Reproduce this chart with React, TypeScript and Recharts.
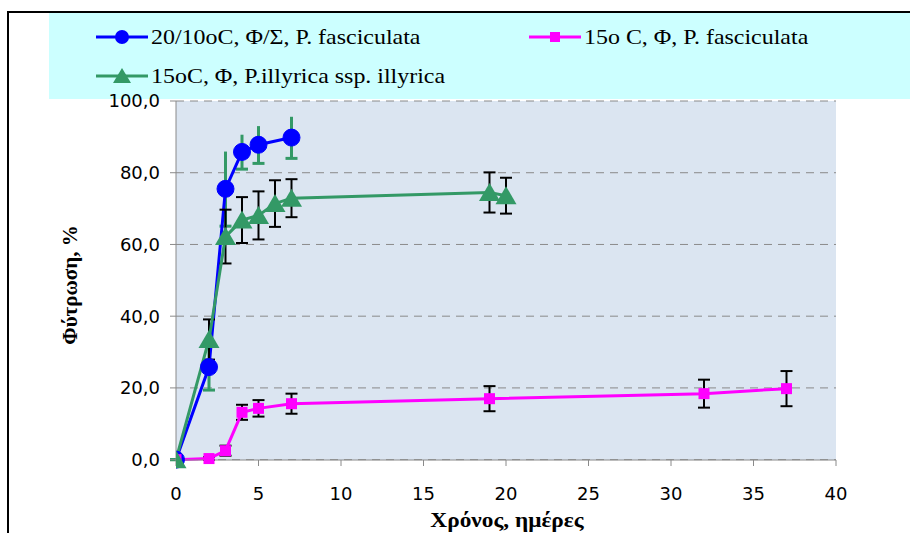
import React from 'react';
import { ComposedChart, Line, XAxis, YAxis, CartesianGrid, ErrorBar } from 'recharts';

// ---- data ----
const blueDays = [0, 2, 3, 4, 5, 7];
const blueValues = [0, 25.8, 75.5, 85.8, 87.8, 89.8];
const blueErrors = [0, 6.4, 10.4, 4.8, 5.2, 5.8];

const pinkDays = [0, 2, 3, 4, 5, 7, 19, 32, 37];
const pinkValues = [0, 0.3, 2.5, 13.2, 14.3, 15.6, 17.0, 18.4, 19.8];
const pinkErrors = [0, 0.4, 1.4, 2.1, 2.3, 2.8, 3.5, 3.9, 4.9];

const greenDays = [0, 2, 3, 4, 5, 6, 7, 19, 20];
const greenValues = [0, 33.5, 62.2, 66.8, 68.1, 71.4, 72.9, 74.5, 73.6];
const greenErrors = [0, 5.6, 7.5, 6.4, 6.7, 6.5, 5.3, 5.6, 5.0];

const xTicks = [0, 5, 10, 15, 20, 25, 30, 35, 40];
const yTicks = [0, 20, 40, 60, 80, 100];

const seriesNames = [
  '20/10oC, Φ/Σ, P. fasciculata',
  '15o C, Φ, P. fasciculata',
  '15oC, Φ, P.illyrica ssp. illyrica',
];
const xTitle = 'Χρόνος, ημέρες';
const yTitle = 'Φύτρωση, %';

const BLUE = '#0000FF';
const PINK = '#FF00FF';
const GREEN = '#339966';

const build = (days: number[], vals: number[], errs: number[]) =>
  days.map((d, i) => ({ day: d, value: vals[i], err: errs[i] }));

const blueData = build(blueDays, blueValues, blueErrors);
const pinkData = build(pinkDays, pinkValues, pinkErrors);
const greenData = build(greenDays, greenValues, greenErrors);

const tickFont = { fontFamily: '"DejaVu Sans", sans-serif', fontSize: 18, fill: '#000' };

const CircleDot = (p: any) => (
  <circle key={`b-${p.index}`} cx={p.cx} cy={p.cy} r={8.5} fill={BLUE} stroke={BLUE} strokeWidth={1} />
);
const SquareDot = (p: any) => (
  <rect key={`p-${p.index}`} x={p.cx - 5.5} y={p.cy - 5.5} width={11} height={11} fill={PINK} />
);
const TriDot = (p: any) => (
  <polygon
    key={`g-${p.index}`}
    points={`${p.cx},${p.cy - 9.5} ${p.cx - 10.5},${p.cy + 8.5} ${p.cx + 10.5},${p.cy + 8.5}`}
    fill={GREEN}
  />
);

const fmtY = (v: number) => v.toFixed(1).replace('.', ',');

const LegendItem = ({ color, marker, text, left, top }: any) => (
  <div style={{ position: 'absolute', left, top, height: 30, display: 'flex', alignItems: 'center' }}>
    <svg width={52} height={24} style={{ display: 'block' }}>
      <line x1={0} y1={12} x2={52} y2={12} stroke={color} strokeWidth={3} />
      {marker === 'circle' && <circle cx={26} cy={12} r={7} fill={color} />}
      {marker === 'square' && <rect x={21} y={7} width={10} height={10} fill={color} />}
      {marker === 'tri' && <polygon points="26,4 17,19 35,19" fill={color} />}
    </svg>
    <span
      style={{
        marginLeft: 3,
        fontFamily: '"Liberation Serif", "Times New Roman", serif',
        fontSize: 21,
        color: '#000',
        whiteSpace: 'nowrap',
        display: 'inline-block',
        transform: 'scaleX(1.14)',
        transformOrigin: 'left center',
      }}
    >
      {text}
    </span>
  </div>
);

const titleStyle: any = {
  position: 'absolute',
  fontFamily: '"Liberation Serif", "Times New Roman", serif',
  fontWeight: 'bold',
  whiteSpace: 'nowrap',
  color: '#000',
};

export default function App() {
  return (
    <div style={{ position: 'absolute', left: 0, top: 0, width: 910, height: 533, background: '#fff', overflow: 'hidden' }}>
      {/* chart frame */}
      <div style={{ position: 'absolute', left: 7, top: 11, width: 920, height: 540, borderLeft: '2px solid #000', borderTop: '2px solid #000' }} />
      {/* legend box */}
      <div style={{ position: 'absolute', left: 49, top: 13, width: 861, height: 86, background: '#CCFFFF' }} />
      <div style={{ position: 'absolute', left: 0, top: 0 }}>
        <ComposedChart width={910} height={533} margin={{ top: 101, right: 74, bottom: 0, left: 0 }}>
          <CartesianGrid
            vertical={false}
            horizontalValues={yTicks}
            stroke="#8a8a8a"
            strokeDasharray="8 6"
            fill="#DBE5F1"
            fillOpacity={1}
          />
          <XAxis
            type="number"
            dataKey="day"
            domain={[0, 40]}
            ticks={xTicks}
            height={73}
            tickSize={6}
            tickMargin={21}
            stroke="#8a8a8a"
            tick={tickFont}
            allowDataOverflow
          />
          <YAxis
            type="number"
            domain={[0, 100]}
            ticks={yTicks}
            width={176}
            tickSize={6}
            tickMargin={10}
            stroke="#8a8a8a"
            tick={tickFont}
            tickFormatter={fmtY}
          />
          <Line
            data={blueData}
            dataKey="value"
            stroke={BLUE}
            strokeWidth={3}
            dot={CircleDot}
            activeDot={false}
            isAnimationActive={false}
            name={seriesNames[0]}
          >
            <ErrorBar dataKey={(d: any) => [d.err, 0]} width={6} stroke={GREEN} strokeWidth={3} direction="y" />
            <ErrorBar dataKey={(d: any) => [0, d.err]} width={0} stroke={GREEN} strokeWidth={3} direction="y" />
          </Line>
          <Line
            data={pinkData}
            dataKey="value"
            stroke={PINK}
            strokeWidth={3}
            dot={SquareDot}
            activeDot={false}
            isAnimationActive={false}
            name={seriesNames[1]}
          >
            <ErrorBar dataKey="err" width={6} stroke="#000" strokeWidth={2} direction="y" />
          </Line>
          <Line
            data={greenData}
            dataKey="value"
            stroke={GREEN}
            strokeWidth={3}
            dot={TriDot}
            activeDot={false}
            isAnimationActive={false}
            name={seriesNames[2]}
          >
            <ErrorBar dataKey="err" width={6} stroke="#000" strokeWidth={2} direction="y" />
          </Line>
        </ComposedChart>
      </div>
      <LegendItem color={BLUE} marker="circle" text={seriesNames[0]} left={96} top={22} />
      <LegendItem color={PINK} marker="square" text={seriesNames[1]} left={529} top={22} />
      <LegendItem color={GREEN} marker="tri" text={seriesNames[2]} left={96} top={61} />
      {/* axis titles */}
      <div style={{ ...titleStyle, left: 70, top: 285, fontSize: 21, transform: 'translate(-50%, -50%) rotate(-90deg)' }}>
        {yTitle}
      </div>
      <div style={{ ...titleStyle, left: 507, top: 520, fontSize: 22, transform: 'translate(-50%, -50%) scaleX(1.06)' }}>
        {xTitle}
      </div>
    </div>
  );
}
